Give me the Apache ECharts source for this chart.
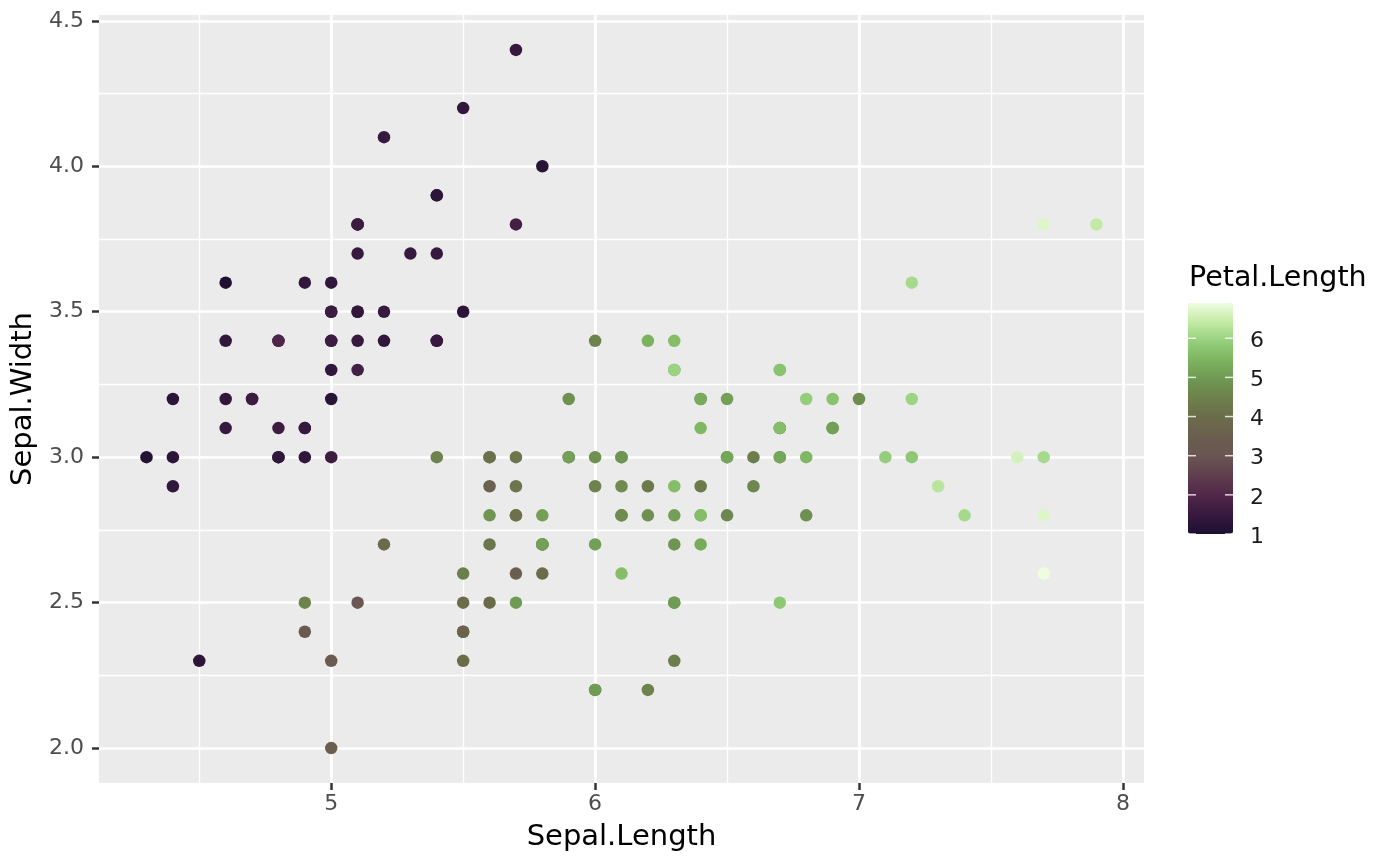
<!DOCTYPE html>
<html lang="en">

<head>
    <meta charset="UTF-8">
    <title>iris scatter</title>
    <script src="https://cdn.jsdelivr.net/npm/echarts@6/dist/echarts.min.js"></script>
    <style>
        body { margin: 0; background: #fff; }
    </style>
</head>

<body>
    <div id="main" style="width:1400px;height:866px;"></div>

    <script>
        // iris: Sepal.Length, Sepal.Width, Petal.Length (row order kept, later rows drawn on top)
        let sepalLength = [
            5.1, 4.9, 4.7, 4.6, 5.0, 5.4, 4.6, 5.0, 4.4, 4.9, 5.4, 4.8, 4.8, 4.3, 5.8, 5.7, 5.4, 5.1, 5.7, 5.1,
            5.4, 5.1, 4.6, 5.1, 4.8, 5.0, 5.0, 5.2, 5.2, 4.7, 4.8, 5.4, 5.2, 5.5, 4.9, 5.0, 5.5, 4.9, 4.4, 5.1,
            5.0, 4.5, 4.4, 5.0, 5.1, 4.8, 5.1, 4.6, 5.3, 5.0,
            7.0, 6.4, 6.9, 5.5, 6.5, 5.7, 6.3, 4.9, 6.6, 5.2, 5.0, 5.9, 6.0, 6.1, 5.6, 6.7, 5.6, 5.8, 6.2, 5.6,
            5.9, 6.1, 6.3, 6.1, 6.4, 6.6, 6.8, 6.7, 6.0, 5.7, 5.5, 5.5, 5.8, 6.0, 5.4, 6.0, 6.7, 6.3, 5.6, 5.5,
            5.5, 6.1, 5.8, 5.0, 5.6, 5.7, 5.7, 6.2, 5.1, 5.7,
            6.3, 5.8, 7.1, 6.3, 6.5, 7.6, 4.9, 7.3, 6.7, 7.2, 6.5, 6.4, 6.8, 5.7, 5.8, 6.4, 6.5, 7.7, 7.7, 6.0,
            6.9, 5.6, 7.7, 6.3, 6.7, 7.2, 6.2, 6.1, 6.4, 7.2, 7.4, 7.9, 6.4, 6.3, 6.1, 7.7, 6.3, 6.4, 6.0, 6.9,
            6.7, 6.9, 5.8, 6.8, 6.7, 6.7, 6.3, 6.5, 6.2, 5.9
        ];
        let sepalWidth = [
            3.5, 3.0, 3.2, 3.1, 3.6, 3.9, 3.4, 3.4, 2.9, 3.1, 3.7, 3.4, 3.0, 3.0, 4.0, 4.4, 3.9, 3.5, 3.8, 3.8,
            3.4, 3.7, 3.6, 3.3, 3.4, 3.0, 3.4, 3.5, 3.4, 3.2, 3.1, 3.4, 4.1, 4.2, 3.1, 3.2, 3.5, 3.6, 3.0, 3.4,
            3.5, 2.3, 3.2, 3.5, 3.8, 3.0, 3.8, 3.2, 3.7, 3.3,
            3.2, 3.2, 3.1, 2.3, 2.8, 2.8, 3.3, 2.4, 2.9, 2.7, 2.0, 3.0, 2.2, 2.9, 2.9, 3.1, 3.0, 2.7, 2.2, 2.5,
            3.2, 2.8, 2.5, 2.8, 2.9, 3.0, 2.8, 3.0, 2.9, 2.6, 2.4, 2.4, 2.7, 2.7, 3.0, 3.4, 3.1, 2.3, 3.0, 2.5,
            2.6, 3.0, 2.6, 2.3, 2.7, 3.0, 2.9, 2.9, 2.5, 2.8,
            3.3, 2.7, 3.0, 2.9, 3.0, 3.0, 2.5, 2.9, 2.5, 3.6, 3.2, 2.7, 3.0, 2.5, 2.8, 3.2, 3.0, 3.8, 2.6, 2.2,
            3.2, 2.8, 2.8, 2.7, 3.3, 3.2, 2.8, 3.0, 2.8, 3.0, 2.8, 3.8, 2.8, 2.8, 2.6, 3.0, 3.4, 3.1, 3.0, 3.1,
            3.1, 3.1, 2.7, 3.2, 3.3, 3.0, 2.5, 3.0, 3.4, 3.0
        ];
        let petalLength = [
            1.4, 1.4, 1.3, 1.5, 1.4, 1.7, 1.4, 1.5, 1.4, 1.5, 1.5, 1.6, 1.4, 1.1, 1.2, 1.5, 1.3, 1.4, 1.7, 1.5,
            1.7, 1.5, 1.0, 1.7, 1.9, 1.6, 1.6, 1.5, 1.4, 1.6, 1.6, 1.5, 1.5, 1.4, 1.5, 1.2, 1.3, 1.4, 1.3, 1.5,
            1.3, 1.3, 1.3, 1.6, 1.9, 1.4, 1.6, 1.4, 1.5, 1.4,
            4.7, 4.5, 4.9, 4.0, 4.6, 4.5, 4.7, 3.3, 4.6, 3.9, 3.5, 4.2, 4.0, 4.7, 3.6, 4.4, 4.5, 4.1, 4.5, 3.9,
            4.8, 4.0, 4.9, 4.7, 4.3, 4.4, 4.8, 5.0, 4.5, 3.5, 3.8, 3.7, 3.9, 5.1, 4.5, 4.5, 4.7, 4.4, 4.1, 4.0,
            4.4, 4.6, 4.0, 3.3, 4.2, 4.2, 4.2, 4.3, 3.0, 4.1,
            6.0, 5.1, 5.9, 5.6, 5.8, 6.6, 4.5, 6.3, 5.8, 6.1, 5.1, 5.3, 5.5, 5.0, 5.1, 5.3, 5.5, 6.7, 6.9, 5.0,
            5.7, 4.9, 6.7, 4.9, 5.7, 6.0, 4.8, 4.9, 5.6, 5.8, 6.1, 6.4, 5.6, 5.1, 5.6, 6.1, 5.6, 5.5, 4.8, 5.4,
            5.6, 5.1, 5.1, 5.9, 5.7, 5.2, 5.0, 5.2, 5.4, 5.1
        ];

        // axis breaks
        let xBreaks = [5, 6, 7, 8];
        let xMinorBreaks = [4.5, 5.5, 6.5, 7.5];
        let yBreaks = [2.0, 2.5, 3.0, 3.5, 4.0, 4.5];
        let yMinorBreaks = [2.25, 2.75, 3.25, 3.75, 4.25];
        let legendBreaks = [1, 2, 3, 4, 5, 6];

        // colour ramp for Petal.Length (1.0 -> 6.9)
        let rampColors = ['#1d1030', '#37193f', '#512848', '#5f3d4e', '#6a5552', '#6a5e4f', '#6b6b4a',
            '#6d7f4c', '#6e9752', '#7cb35f', '#95cf7b', '#c3eaa6', '#effce0'];

        let points = sepalLength.map(function (v, i) {
            return [v, sepalWidth[i], petalLength[i]];
        });

        let font = 'DejaVu Sans';
        let gridLines = [];
        xBreaks.forEach(function (v) { gridLines.push({ xAxis: v, lineStyle: { width: 2.7 } }); });
        xMinorBreaks.forEach(function (v) { gridLines.push({ xAxis: v, lineStyle: { width: 1.3 } }); });
        yBreaks.forEach(function (v) { gridLines.push({ yAxis: v, lineStyle: { width: 2.7 } }); });
        yMinorBreaks.forEach(function (v) { gridLines.push({ yAxis: v, lineStyle: { width: 1.3 } }); });

        // white tick marks on both edges of the colour bar
        let barTicksLeft = legendBreaks.map(function (v) { return [0, v]; });
        let barTicksRight = legendBreaks.map(function (v) { return [1, v]; });

        let chart = echarts.init(document.getElementById('main'));
        chart.setOption({
            animation: false,
            backgroundColor: '#ffffff',
            textStyle: { fontFamily: font },
            title: {
                text: 'Petal.Length',
                left: 1189,
                top: 264,
                padding: 0,
                textStyle: { fontFamily: font, fontSize: 28.5, fontWeight: 'normal', color: '#000000' }
            },
            grid: [{
                left: 99, right: 256, top: 15, bottom: 83,
                show: true, backgroundColor: '#ebebeb', borderWidth: 0
            }, {
                left: 1188, width: 45, top: 303, height: 231,
                show: false
            }],
            xAxis: [{
                type: 'value',
                min: 4.12, max: 8.08,
                name: 'Sepal.Length',
                nameLocation: 'middle',
                nameGap: 40,
                nameTextStyle: { fontFamily: font, fontSize: 29, color: '#000000' },
                axisLine: { show: false },
                axisTick: { show: true, length: 7, lineStyle: { color: '#333333', width: 2.5 }, customValues: xBreaks },
                axisLabel: { fontFamily: font, fontSize: 22, color: '#4d4d4d', margin: 10, customValues: xBreaks },
                splitLine: { show: false }
            }, {
                gridIndex: 1, type: 'value', min: 0, max: 1, show: false
            }],
            yAxis: [{
                type: 'value',
                min: 1.88, max: 4.52,
                name: 'Sepal.Width',
                nameLocation: 'middle',
                nameGap: 50,
                nameTextStyle: { fontFamily: font, fontSize: 29, color: '#000000' },
                axisLine: { show: false },
                axisTick: { show: true, length: 7, lineStyle: { color: '#333333', width: 2.5 }, customValues: yBreaks },
                axisLabel: {
                    fontFamily: font, fontSize: 22, color: '#4d4d4d', margin: 15, customValues: yBreaks,
                    formatter: function (v) { return v.toFixed(1); }
                },
                splitLine: { show: false }
            }, {
                gridIndex: 1, type: 'value', min: 1, max: 6.9, position: 'right',
                axisLine: { show: false },
                axisTick: { show: false },
                axisLabel: {
                    fontFamily: font, fontSize: 22, color: '#1a1a1a', margin: 17,
                    lineHeight: 28, verticalAlign: 'top', padding: [-11, 0, 0, 0], customValues: legendBreaks
                },
                splitLine: { show: false }
            }],
            visualMap: {
                type: 'continuous',
                seriesIndex: 1,
                dimension: 2,
                min: 1,
                max: 6.9,
                calculable: false,
                hoverLink: false,
                z: 1,
                left: 1188,
                top: 303,
                padding: 0,
                itemWidth: 45,
                itemHeight: 231,
                inRange: { color: rampColors }
            },
            series: [{
                // panel grid lines, kept under the points
                type: 'line',
                data: [],
                z: 1,
                silent: true,
                markLine: {
                    z: 1,
                    silent: true,
                    symbol: ['none', 'none'],
                    label: { show: false },
                    lineStyle: { color: '#ffffff', type: 'solid' },
                    emphasis: { disabled: true },
                    data: gridLines
                }
            }, {
                type: 'scatter',
                z: 10,
                symbolSize: 12.5,
                data: points,
                encode: { x: 0, y: 1 },
                itemStyle: { opacity: 1 }
            }, {
                type: 'scatter',
                xAxisIndex: 1, yAxisIndex: 1,
                zlevel: 1, silent: true,
                symbol: 'rect', symbolSize: [8, 1.5], symbolOffset: [4, 0],
                itemStyle: { color: '#ffffff' },
                data: barTicksLeft
            }, {
                type: 'scatter',
                xAxisIndex: 1, yAxisIndex: 1,
                zlevel: 1, silent: true,
                symbol: 'rect', symbolSize: [8, 1.5], symbolOffset: [-4, 0],
                itemStyle: { color: '#ffffff' },
                data: barTicksRight
            }]
        });
    </script>
</body>

</html>
